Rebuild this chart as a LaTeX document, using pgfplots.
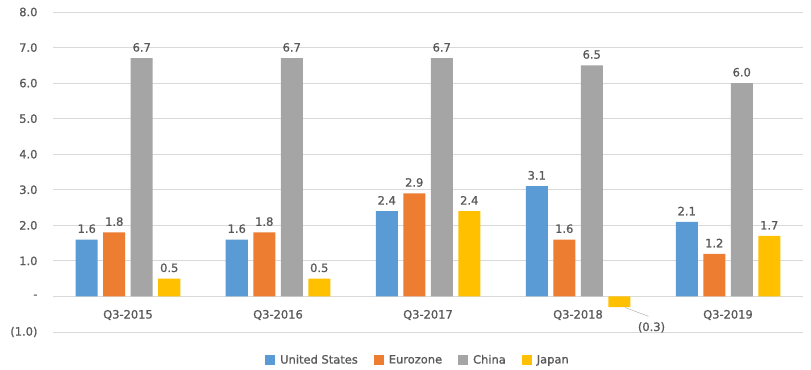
\documentclass[border=0pt]{standalone}
\usepackage{pgfplots}
\pgfplotsset{compat=1.18}
\usepackage{fontspec}
\setmainfont{DejaVu Sans}
\newfontfamily\sbf{DejaVu Sans}[RawFeature={embolden=1.0}]
\definecolor{cUS}{HTML}{5B9BD5}
\definecolor{cEU}{HTML}{ED7D31}
\definecolor{cCN}{HTML}{A5A5A5}
\definecolor{cJP}{HTML}{FFC000}
\definecolor{txt}{HTML}{595959}
\definecolor{grd}{HTML}{D9D9D9}
\newcommand\lf{\sbf\fontsize{11.5}{13}\selectfont}
\begin{document}
\begin{tikzpicture}
\begin{axis}[
  scale only axis,
  width=750bp, height=320bp,
  xmin=-0.5, xmax=4.5,
  ymin=-1, ymax=8,
  ybar=5.5bp, bar width=22bp,
  xtick=data,
  xticklabels={Q3-2015,Q3-2016,Q3-2017,Q3-2018,Q3-2019},
  xticklabel style={anchor=center, yshift=17bp, font=\lf, text=txt},
  ytick={-1,0,1,2,3,4,5,6,7,8},
  yticklabels={(1.0),-,1.0,2.0,3.0,4.0,5.0,6.0,7.0,8.0},
  yticklabel style={font=\lf, text=txt, xshift=-12bp},
  ymajorgrids, grid style={grd, line width=0.8pt},
  axis line style={draw=none},
  major tick length=0pt,
  nodes near coords={\pgfmathfloatifflags{\pgfplotspointmeta}{-}{}{\pgfmathprintnumber{\pgfplotspointmeta}}},
  every node near coord/.append style={font=\lf, text=txt, yshift=3bp, /pgf/number format/.cd, fixed, fixed zerofill, precision=1, assume math mode=true},
  legend style={at={(0.5,0)}, anchor=center, yshift=-28bp, xshift=-10bp, draw=none, legend columns=-1,
    font=\lf, text=txt,
    /tikz/every even column/.append style={column sep=14bp},
    /tikz/every odd column/.append style={column sep=3bp}},
  legend image code/.code={\fill[#1] (0bp,-5bp) rectangle (10bp,5bp);},
  clip=false,
]
\addplot[fill=cUS, draw=none] coordinates {(0,1.6) (1,1.6) (2,2.4) (3,3.1) (4,2.1)};
\addplot[fill=cEU, draw=none] coordinates {(0,1.8) (1,1.8) (2,2.9) (3,1.6) (4,1.2)};
\addplot[fill=cCN, draw=none] coordinates {(0,6.7) (1,6.7) (2,6.7) (3,6.5) (4,6.0)};
\addplot[fill=cJP, draw=none] coordinates {(0,0.5) (1,0.5) (2,2.4) (3,-0.3) (4,1.7)};
\legend{United States, Eurozone, China, Japan}
\draw[gray!70] (axis cs:3.313,-0.31) -- (axis cs:3.47,-0.56);
\node[font=\lf, text=txt] at (axis cs:3.49,-0.87) {(0.3)};
\path (rel axis cs:0,0) ++(-53bp,-38bp) rectangle ([xshift=8bp,yshift=12bp]rel axis cs:1,1);
\end{axis}
\end{tikzpicture}
\end{document}
